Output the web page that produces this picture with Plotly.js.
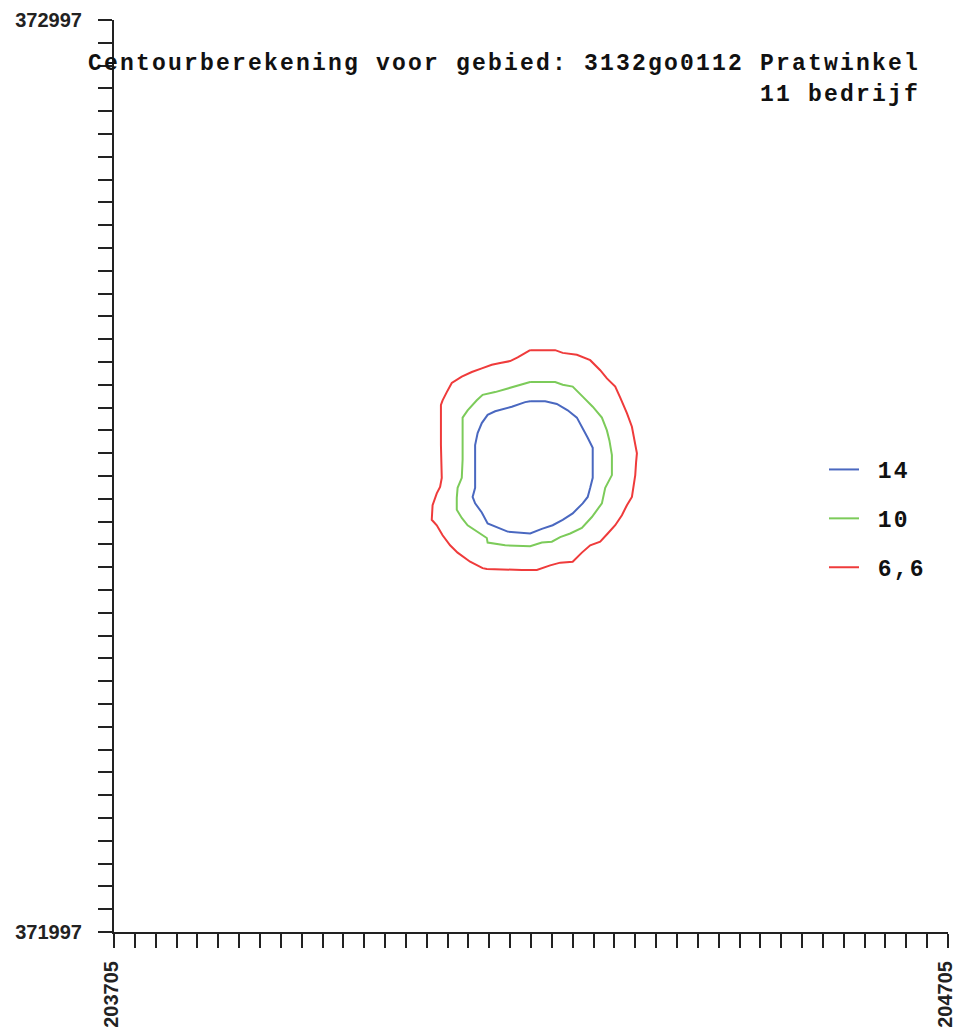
<!DOCTYPE html>
<html>
<head>
<meta charset="utf-8">
<script src="https://cdn.plot.ly/plotly-3.0.1.min.js"></script>
<style>
  html, body { margin: 0; padding: 0; background: #fff; }
  #chart { width: 957px; height: 1030px; }
</style>
</head>
<body>
<div id="chart"></div>
<script>
// Axis extent (map coordinates, metres)
const xRange = [203705, 204705];
const yRange = [371997, 372997];
const tickStep = 25;
const xEndLabels = ["203705", "204705"];
const yEndLabels = ["371997", "372997"];

// Title text
const titleLine1 = "Centourberekening voor gebied: 3132go0112 Pratwinkel";
const titleLine2 = "11 bedrijf";

// Contour levels (legend labels)
const levelNames = ["14", "10", "6,6"];
const levelColors = ["#4a68c0", "#7ccb5a", "#ef3b3b"];

// Contour 14 (blue)
const c14x = [204204, 204222, 204236, 204249, 204260, 204267, 204273, 204279, 204279, 204279, 204276, 204273, 204267, 204255, 204243, 204231, 204218, 204204, 204177, 204164, 204153, 204146, 204138, 204135, 204138, 204138, 204138, 204141, 204146, 204153, 204162, 204182, 204198, 204204];
const c14y = [372579, 372579, 372576, 372569, 372561, 372550, 372539, 372528, 372515, 372495, 372484, 372474, 372467, 372456, 372449, 372443, 372439, 372434, 372436, 372441, 372445, 372457, 372467, 372474, 372484, 372515, 372531, 372544, 372555, 372564, 372568, 372573, 372578, 372579];

// Contour 10 (green)
const c10x = [204204, 204234, 204243, 204255, 204267, 204279, 204290, 204296, 204299, 204302, 204302, 204297, 204294, 204290, 204278, 204266, 204252, 204240, 204230, 204218, 204204, 204174, 204153, 204152, 204141, 204129, 204122, 204116, 204116, 204117, 204122, 204123, 204123, 204129, 204140, 204147, 204162, 204177, 204198, 204204];
const c10y = [372600, 372600, 372597, 372595, 372584, 372573, 372561, 372547, 372536, 372520, 372498, 372490, 372484, 372467, 372452, 372440, 372434, 372430, 372425, 372424, 372420, 372421, 372424, 372429, 372436, 372443, 372451, 372460, 372473, 372484, 372495, 372515, 372561, 372569, 372580, 372586, 372589, 372593, 372599, 372600];

// Contour 6,6 (red)
const c66x = [204204, 204234, 204243, 204260, 204276, 204288, 204296, 204306, 204312, 204320, 204326, 204330, 204332, 204331, 204330, 204326, 204320, 204314, 204306, 204297, 204288, 204276, 204266, 204255, 204240, 204228, 204212, 204194, 204152, 204147, 204132, 204117, 204108, 204099, 204092, 204086, 204087, 204092, 204096, 204098, 204097, 204097, 204099, 204104, 204110, 204122, 204134, 204146, 204158, 204168, 204180, 204189, 204198, 204204];
const c66y = [372635, 372635, 372632, 372630, 372624, 372613, 372604, 372595, 372583, 372566, 372551, 372534, 372522, 372512, 372498, 372474, 372465, 372454, 372443, 372434, 372425, 372421, 372413, 372403, 372402, 372399, 372394, 372394, 372395, 372396, 372403, 372413, 372421, 372432, 372443, 372449, 372465, 372478, 372485, 372495, 372531, 372575, 372580, 372589, 372599, 372606, 372611, 372615, 372619, 372621, 372623, 372627, 372632, 372635];

const contourX = [c14x, c10x, c66x];
const contourY = [c14y, c10y, c66y];

function spaced(t) {
  return '<span style="letter-spacing:2.2px">' + t + '</span>';
}

const traces = levelNames.map((name, i) => ({
  type: 'scatter',
  mode: 'lines',
  x: contourX[i],
  y: contourY[i],
  name: '&nbsp;' + spaced(name),
  legendgroup: 'g' + i,
  line: { color: levelColors[i], width: 2 },
  hoverinfo: 'skip'
}));

function ticks(range) {
  const vals = [], txt = [];
  for (let v = range[0]; v <= range[1]; v += tickStep) { vals.push(v); txt.push(''); }
  return { vals, txt };
}
const xt = ticks(xRange);
xt.txt[0] = xEndLabels[0]; xt.txt[xt.txt.length - 1] = xEndLabels[1];
const yt = ticks(yRange);
yt.txt[0] = yEndLabels[0]; yt.txt[yt.txt.length - 1] = yEndLabels[1];

const axisCommon = {
  showgrid: false,
  zeroline: false,
  showline: true,
  linecolor: '#222',
  linewidth: 2,
  ticks: 'outside',
  ticklen: 14,
  tickwidth: 2,
  tickcolor: '#222',
  tickmode: 'array',
  fixedrange: true,
  ticklabeloverflow: 'allow',
  tickfont: { family: 'Liberation Sans, Arial, sans-serif', size: 20, color: '#222', weight: 'bold' }
};

const monoFont = { family: 'Liberation Mono, DejaVu Sans Mono, monospace', size: 23, color: '#111', weight: 'bold' };

const layout = {
  width: 957,
  height: 1030,
  margin: { l: 114, r: 9, t: 20, b: 98, pad: 0 },
  paper_bgcolor: '#fff',
  plot_bgcolor: '#fff',
  showlegend: true,
  legend: {
    x: (824 - 114) / 834, xanchor: 'left',
    y: (932 - 448) / 912, yanchor: 'top',
    bgcolor: 'rgba(0,0,0,0)',
    font: monoFont,
    tracegroupgap: 16,
    itemwidth: 30
  },
  xaxis: Object.assign({}, axisCommon, {
    range: xRange,
    tickvals: xt.vals,
    ticktext: xt.txt,
    tickangle: -90,
    ticklabelstandoff: 5,
    ticklabelshift: -3
  }),
  yaxis: Object.assign({}, axisCommon, {
    range: yRange,
    tickvals: yt.vals,
    ticktext: yt.txt,
    ticklabelstandoff: 12
  }),
  annotations: [
    {
      xref: 'paper', yref: 'paper',
      x: (922 - 114) / 834, y: (932 - 64) / 912,
      xanchor: 'right', yanchor: 'middle',
      text: spaced(titleLine1),
      showarrow: false,
      font: monoFont
    },
    {
      xref: 'paper', yref: 'paper',
      x: (922 - 114) / 834, y: (932 - 95) / 912,
      xanchor: 'right', yanchor: 'middle',
      text: spaced(titleLine2),
      showarrow: false,
      font: monoFont
    }
  ]
};

Plotly.newPlot('chart', traces, layout, { displayModeBar: false, staticPlot: true });
</script>
</body>
</html>
